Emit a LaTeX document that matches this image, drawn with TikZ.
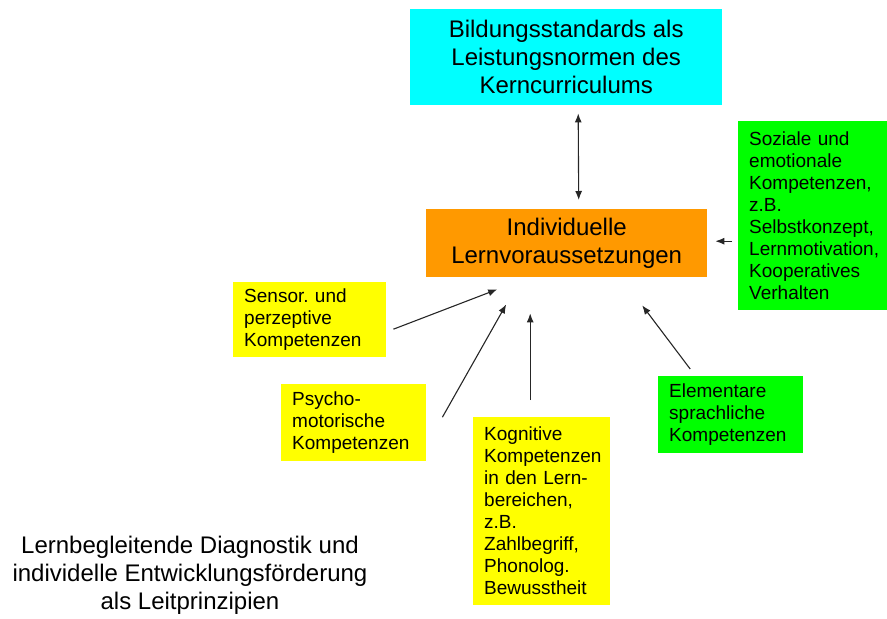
\documentclass[tikz,border=0pt]{standalone}
\usepackage{fontspec}
\setmainfont{Liberation Sans}
\usepackage{xcolor}
\usetikzlibrary{arrows.meta}
\definecolor{kcyan}{HTML}{00FFFF}
\definecolor{korange}{HTML}{FF9900}
\definecolor{kyellow}{HTML}{FFFF00}
\definecolor{kgreen}{HTML}{00FF00}
\frenchspacing

\tikzset{
  bigtext/.style={font=\fontsize{24}{28}\selectfont, align=center, inner sep=0pt},
  kompbox/.style={anchor=north west, inner xsep=11pt, inner ysep=0pt, align=left,
    font=\fontsize{19}{22}\selectfont},
  arr/.style={-{Latex[length=9pt,width=7pt]}, line width=1.1pt, black!85}
}

\begin{document}
\begin{tikzpicture}[x=1pt, y=-1pt]
\useasboundingbox (0,0) rectangle (887,619);
% top and centre
\node[bigtext, fill=kcyan, anchor=north west, minimum width=312, minimum height=96]
  (std) at (410,9) {Bildungsstandards als\\Leistungsnormen des\\Kerncurriculums};
\node[bigtext, fill=korange, anchor=north west, minimum width=281, minimum height=68]
  (lern) at (426,209) {Individuelle\\Lernvoraussetzungen};
% Kompetenzbereiche
\node[kompbox, fill=kgreen, text width=127, minimum height=189]
  (soz) at (738,121) {Soziale und\\emotionale\\Kompetenzen,\\z.B.\\Selbstkonzept,\\Lernmotivation,\\Kooperatives\\Verhalten};
\node[kompbox, fill=kyellow, text width=131, minimum height=75]
  (sensor) at (233,282) {Sensor. und\\perzeptive\\Kompetenzen};
\node[kompbox, fill=kyellow, text width=123, minimum height=77]
  (psycho) at (281,384) {Psycho-\\motorische\\Kompetenzen};
\node[kompbox, fill=kyellow, text width=115, minimum height=188]
  (kog) at (473,417) {Kognitive\\Kompetenzen\\in den Lern-\\bereichen,\\z.B.\\Zahlbegriff,\\Phonolog.\\Bewusstheit};
\node[kompbox, fill=kgreen, text width=123, minimum height=77]
  (elem) at (658,376) {Elementare\\sprachliche\\Kompetenzen};
% Leitprinzipien
\node[bigtext] (leit) at (190,575)
  {Lernbegleitende Diagnostik und\\individelle Entwicklungsförderung\\als Leitprinzipien};
% arrows
\draw[arr, {Latex[length=9pt,width=7pt]}-{Latex[length=9pt,width=7pt]}]
  ([xshift=12pt,yshift=-8pt]std.south) -- ([xshift=12pt,yshift=9pt]lern.north);
\draw[arr] ([xshift=-6pt,yshift=-25.5pt]soz.west) -- ([xshift=8pt,yshift=2pt]lern.east);
\draw[arr] ([xshift=7pt,yshift=-9.5pt]sensor.east) -- ([xshift=-69.5pt,yshift=-12pt]lern.south);
\draw[arr] ([xshift=16pt,yshift=5.5pt]psycho.east) -- ([xshift=-60.5pt,yshift=-27pt]lern.south);
\draw[arr] ([xshift=-11.5pt,yshift=17pt]kog.north) -- ([xshift=-36.5pt,yshift=-36pt]lern.south);
\draw[arr] ([xshift=-40.5pt,yshift=7pt]elem.north) -- ([xshift=75.5pt,yshift=-28pt]lern.south);
\end{tikzpicture}
\end{document}
